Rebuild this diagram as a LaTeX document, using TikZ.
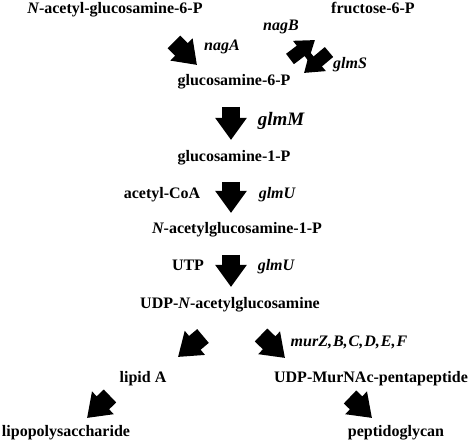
\documentclass[tikz,border=0pt]{standalone}
\usepackage{fontspec}
\setmainfont{Liberation Serif}
\usetikzlibrary{calc,arrows.meta}

\begin{document}
\begin{tikzpicture}[%
    x=1pt,y=-1pt,%
    metab/.style={font=\fontsize{16}{19}\selectfont\bfseries,inner sep=0pt,%
      text height=11pt,text depth=3pt},%
    gene/.style={metab,font=\fontsize{16}{19}\selectfont\bfseries\itshape},%
    ]
    % Voie de la glucosamine

    %
    % Définitions
    %
    \pgfmathsetmacro{\xa}{231};%
    \pgfmathsetmacro{\ya}{10};%
    \pgfmathsetmacro{\yb}{82};%
    \pgfmathsetmacro{\yc}{158};%
    \pgfmathsetmacro{\yd}{230};%
    \pgfmathsetmacro{\ye}{305};%
    \pgfmathsetmacro{\yf}{378};%
    \pgfmathsetmacro{\yg}{432};%

    %
    % Styles
    %
    \tikzset{fleche/.style={line width=18pt,-{Triangle[length=22pt,width=30pt]}}};%
    \tikzset{petitefleche/.style={line width=13pt,-{Triangle[length=18pt,width=24pt]}}};%

    \useasboundingbox (0,0) rectangle (474,446);%

    %
    % Métabolites
    %
    \node[metab] (nac6p) at (115,\ya) {{\itshape N}-acetyl-glucosamine-6-P};%
    \node[metab] (fru6p) at (373,\ya) {fructose-6-P};%
    \node[metab] (glc6p) at (234,\yb) {glucosamine-6-P};%
    \node[metab] (glc1p) at (234,\yc) {glucosamine-1-P};%
    \node[metab] (nac1p) at (237,\yd) {{\itshape N}-acetylglucosamine-1-P};%
    \node[metab] (udpnag) at (230,\ye) {UDP-{\itshape N}-acetylglucosamine};%
    \node[metab] (lipa) at (143,\yf) {lipid A};%
    \node[metab] (murnac) at (371,\yf) {UDP-MurNAc-pentapeptide};%
    \node[metab] (lps) at (66,\yg) {lipopolysaccharide};%
    \node[metab] (pgn) at (396,\yg) {peptidoglycan};%

    % Cosubstrats
    \node[metab] (acoa) at (162,195) {acetyl-CoA};%
    \node[metab] (utp) at (188,267) {UTP};%

    % Gènes
    \node[gene] (nagA) at (222,47) {nagA};%
    \node[gene] (nagB) at (281,27) {nagB};%
    \node[gene] (glmS) at (350,65) {glmS};%
    \node[gene,font=\fontsize{19}{22}\selectfont\bfseries\itshape] (glmM) at (281,122) {glmM};%
    \node[gene] (glmUa) at (277,195) {glmU};%
    \node[gene] (glmUb) at (276,267) {glmU};%
    \node[gene] (murZ) at (349,342) {murZ,\kern1pt B,\kern1pt C,\kern1pt D,\kern1pt E,\kern1pt F};%

    %
    % Coordonnées des flèches
    %
    \coordinate (nagAs) at (174,42);%
    \coordinate (nagAe) at (197,65);%
    \coordinate (nagBs) at (290,59);%
    \coordinate (nagBe) at (315,40);%
    \coordinate (glmSs) at (329,52);%
    \coordinate (glmSe) at (304,73);%
    \coordinate (glmMs) at (\xa,107);%
    \coordinate (glmMe) at (\xa,140);%
    \coordinate (glmUas) at (\xa,182);%
    \coordinate (glmUae) at (\xa,213);%
    \coordinate (glmUbs) at (\xa,255);%
    \coordinate (glmUbe) at (\xa,287);%
    \coordinate (lipas) at (203,336);%
    \coordinate (lipae) at (178,357);%
    \coordinate (murs) at (261,335);%
    \coordinate (mure) at (285,358);%
    \coordinate (lpss) at (110,396);%
    \coordinate (lpse) at (87,418);%
    \coordinate (pgns) at (350,397);%
    \coordinate (pgne) at (372,418);%

    %
    % Dessin
    %
    \draw[fleche] (nagAs) -- (nagAe);%
    \draw[petitefleche] (nagBs) -- (nagBe);%
    \draw[petitefleche] (glmSs) -- (glmSe);%
    \draw[fleche] (glmMs) -- (glmMe);%
    \draw[fleche] (glmUas) -- (glmUae);%
    \draw[fleche] (glmUbs) -- (glmUbe);%
    \draw[fleche] (lipas) -- (lipae);%
    \draw[fleche] (murs) -- (mure);%
    \draw[fleche] (lpss) -- (lpse);%
    \draw[fleche] (pgns) -- (pgne);%

\end{tikzpicture}
\end{document}
